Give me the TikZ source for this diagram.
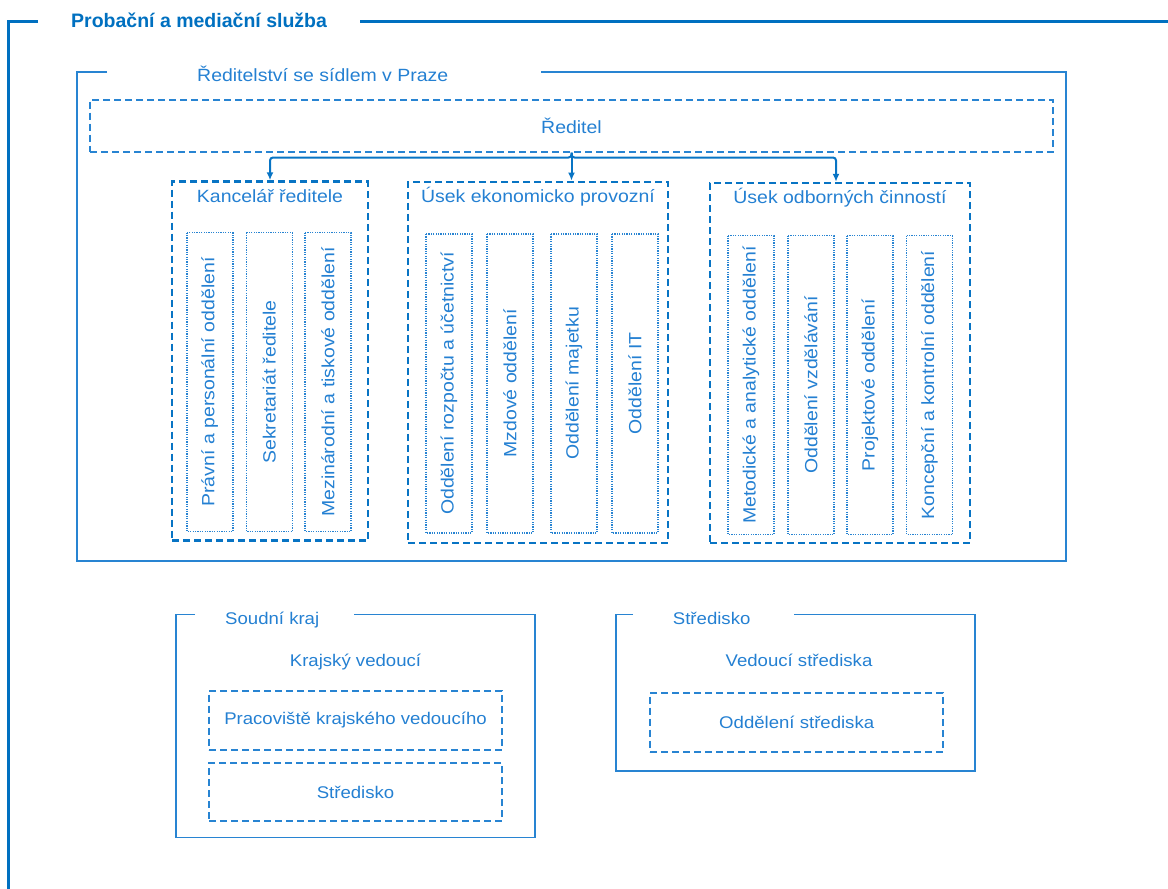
\documentclass[tikz,border=0pt]{standalone}
\usepackage{fontspec}
\setmainfont{Liberation Sans}[FakeStretch=1.1]
\newfontfamily\titlefont{Liberation Sans}
\usepackage{tikz}
\usetikzlibrary{positioning,arrows.meta}

\definecolor{psblue}{RGB}{0,112,192}
\definecolor{lineblue}{RGB}{40,132,210}
\definecolor{textblue}{RGB}{36,128,210}

\begin{document}
\begin{tikzpicture}[x=1pt,y=-1pt,
	txt/.style={text=textblue,font=\fontsize{17.7}{20}\selectfont,inner sep=0pt},
	smalltxt/.style={txt,font=\fontsize{16.9}{20}\selectfont},
	frame/.style={draw=lineblue,line width=1.6pt},
	bosbox/.style={draw=lineblue,line width=2pt,dash pattern=on 7pt off 4pt,inner sep=0pt},
	deptbox/.style={draw=psblue!80!lineblue,line width=2.4pt,dash pattern=on 7pt off 4pt,inner sep=0pt},
	subbox/.style={txt,draw=lineblue,line width=1.6pt,dash pattern=on 1.2pt off 1.2pt,rotate=90,minimum width=299,minimum height=46},
	arr/.style={draw=psblue!80!lineblue,line width=2pt,-{Latex[length=8pt,width=7pt]},rounded corners=3pt}
	]
			\useasboundingbox (0,0) rectangle (1168,889);

			% Probacni a mediacni sluzba
			\draw[psblue,line width=3pt] (38,21.5) -- (8.5,21.5) -- (8.5,889);
			\draw[psblue,line width=3pt] (360,21.5) -- (1168,21.5);
			\node[anchor=base west,inner sep=0pt,text=psblue,font=\titlefont\bfseries\fontsize{19.5}{22}\selectfont] (pms) at (71,27) {Probační a mediační služba};

			% reditelstvi
			\draw[frame] (107,72) -- (77,72) -- (77,561) -- (1066,561) -- (1066,72) -- (541,72);
			\node[txt,anchor=base west] (praha) at (197,81) {Ředitelství se sídlem v Praze};

			\node[bosbox,txt,minimum width=963,minimum height=52] (reditel) at (571.5,125.5) {Ředitel};

			\node[deptbox,minimum width=196,minimum height=359] (kancelar) at (270,361) {};
			\node[deptbox,minimum width=260,minimum height=361] (ekon) at (538,362.3) {};
			\node[deptbox,minimum width=260,minimum height=360] (odbor) at (840,363) {};

			\node[txt,below=22pt of kancelar.north,anchor=base] (kancelar_t) {Kancelář ředitele};
			\node[txt,below=22pt of ekon.north,anchor=base] (ekon_t) {Úsek ekonomicko provozní};
			\node[txt,below=22pt of odbor.north,anchor=base] (odbor_t) {Úsek odborných činností};

			\foreach \x/\t [count=\i] in {209.7/{Právní a personální oddělení}, 269.3/{Sekretariát ředitele}, 328/{Mezinárodní a tiskové oddělení}}
				\node[subbox] (kancelar_\i) at (\x,382) {\t};
			\foreach \x/\t [count=\i] in {449/{Oddělení rozpočtu a účetnictví}, 510/{Mzdové oddělení}, 574/{Oddělení majetku}, 635/{Oddělení IT}}
				\node[subbox] (ekon_\i) at (\x,383.4) {\t};
			\foreach \x/\t [count=\i] in {751/{Metodické a analytické oddělení}, 811/{Oddělení vzdělávání}, 870/{Projektové oddělení}, 929.5/{Koncepční a kontrolní oddělení}}
				\node[subbox] (odbor_\i) at (\x,385) {\t};

			\draw[arr] (reditel.south) -- (reditel.south |- ekon.north);
			\draw[arr] (reditel.south) -- ++(0,5) -| (kancelar.north);
			\draw[arr] (reditel.south) -- ++(0,5) -| ([xshift=-4pt]odbor.north);

			% soudni kraj
			\draw[frame] (195,614.5) -- (176,614.5) -- (176,837.5) -- (535,837.5) -- (535,614.5) -- (354,614.5);
			\node[smalltxt,anchor=base west] (kraj) at (225,624.5) {Soudní kraj};
			\node[smalltxt,anchor=base] (krajsky) at (355.5,666) {Krajský vedoucí};
			\node[bosbox,smalltxt,minimum width=293,minimum height=59] (pracoviste) at (355.5,720) {Pracoviště krajského vedoucího};
			\node[bosbox,smalltxt,minimum width=293,minimum height=58] (kraj_stredisko) at (355.5,792) {Středisko};

			% stredisko
			\draw[frame] (633,614.5) -- (616,614.5) -- (616,771) -- (975,771) -- (975,614.5) -- (794,614.5);
			\node[smalltxt,anchor=base west] (stredisko) at (672.7,624.5) {Středisko};
			\node[smalltxt,anchor=base] (vedouci) at (799,666) {Vedoucí střediska};
			\node[bosbox,smalltxt,minimum width=293,minimum height=59] (oddeleni) at (796.7,722) {Oddělení střediska};

		\end{tikzpicture}
\end{document}
